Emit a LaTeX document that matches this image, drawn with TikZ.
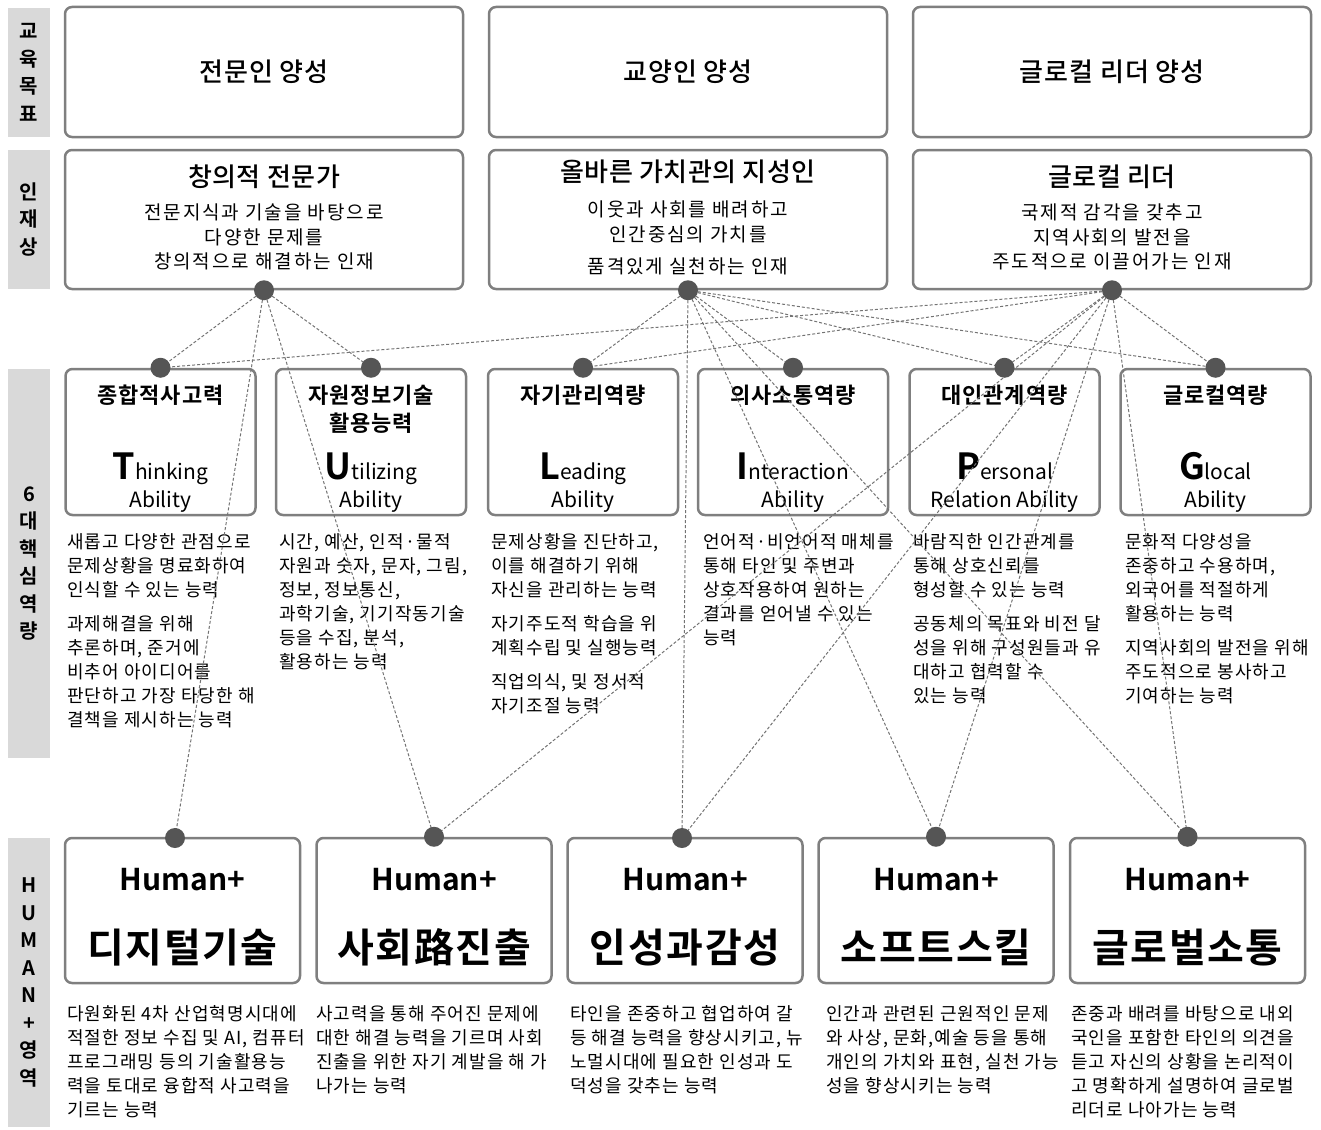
\documentclass[tikz,border=0pt]{standalone}
\usepackage{fontspec}
\setmainfont{Noto Sans CJK KR}[BoldFont={Noto Sans CJK KR Bold}]
\newfontfamily\medfont{Noto Sans CJK KR Medium}
\usetikzlibrary{positioning}
\definecolor{boxline}{HTML}{7F7F7F}
\definecolor{barfill}{HTML}{D9D9D9}
\definecolor{dotfill}{HTML}{555555}
\definecolor{linkline}{HTML}{737373}
\newcommand{\setfs}[2]{\fontsize{#1}{#2}\selectfont}
\newcommand{\spaced}[1]{\addfontfeature{LetterSpace=#1}}
\newcommand{\initcap}[1]{{\setfs{36}{36}\bfseries #1}}

\begin{document}
\begin{tikzpicture}[x=1pt,y=-1pt,
  bar/.style={fill=barfill,minimum width=42pt,inner sep=0pt,align=center,font=\setfs{20}{27.5}\bfseries},
  frame/.style={draw=boxline,line width=2.5pt,rounded corners=7pt,fill=white,inner sep=0pt},
  goal/.style={frame,minimum width=398pt,minimum height=130pt,font=\medfont\setfs{26}{30}\spaced{4}},
  talent/.style={frame,minimum width=398pt,minimum height=139pt},
  ability/.style={frame,minimum width=190pt,minimum height=146pt},
  human/.style={frame,minimum width=235pt,minimum height=145pt},
  ttitle/.style={inner sep=0pt,font=\medfont\setfs{26}{30}\spaced{2}},
  tsub/.style={anchor=north,inner sep=0pt,align=center,font=\setfs{19}{24.5}\spaced{10}},
  atitle/.style={inner sep=0pt,align=center,font=\setfs{22}{28}\bfseries\spaced{4}},
  aword/.style={anchor=base,inner sep=0pt,font=\setfs{21}{24}},
  hplus/.style={anchor=base,inner sep=0pt,font=\setfs{30}{30}\bfseries},
  hname/.style={anchor=base,inner sep=0pt,font=\setfs{40}{40}\bfseries\spaced{4}},
  desc/.style={anchor=north west,inner sep=0pt,align=left,font=\setfs{18}{24}\spaced{6}},
  link/.style={draw=linkline,dash pattern=on 3pt off 2pt,line width=1pt}]
\useasboundingbox (0,0) rectangle (1321,1129);

\node[bar,minimum height=129pt] (bar1) at (29,72.5) {교\\육\\목\\표};
\node[bar,minimum height=139pt] (bar2) at (29,219.5) {인\\재\\상};
\node[bar,minimum height=389pt] (bar3) at (29,563.5) {6\\대\\핵\\심\\역\\량};
\node[bar,minimum height=289pt] (bar4) at (29,982.5) {H\\U\\M\\A\\N\\+\\영\\역};

\node[goal] (goal1) at (264,72) {전문인 양성};
\node[goal] (goal2) at (688,72) {교양인 양성};
\node[goal] (goal3) at (1112,72) {글로컬 리더 양성};

\node[talent] (tal1) at (264,219.5) {};
\node[talent] (tal2) at (688,219.5) {};
\node[talent] (tal3) at (1112,219.5) {};
\node[ttitle] (tal1t) at (264,177) {창의적 전문가};
\node[ttitle] (tal2t) at (688,172) {올바른 가치관의 지성인};
\node[ttitle] (tal3t) at (1112,177) {글로컬 리더};
\node[tsub] (tal1s) at (264,204) {전문지식과 기술을 바탕으로\\다양한 문제를\\창의적으로 해결하는 인재};
\node[tsub] (tal2s) at (688,201) {이웃과 사회를 배려하고\\인간중심의 가치를\\[8pt]품격있게 실천하는 인재};
\node[tsub] (tal3s) at (1112,204) {국제적 감각을 갖추고\\지역사회의 발전을\\주도적으로 이끌어가는 인재};

\node[ability] (ab1) at (160.5,442) {};
\node[ability] (ab2) at (371,442) {};
\node[ability] (ab3) at (583,442) {};
\node[ability] (ab4) at (793,442) {};
\node[ability] (ab5) at (1004.5,442) {};
\node[ability] (ab6) at (1215.5,442) {};
\node[atitle] (ab1t) at (160.5,395) {종합적사고력};
\node[atitle] (ab2t) at (371,409) {자원정보기술\\활용능력};
\node[atitle] (ab3t) at (583,395) {자기관리역량};
\node[atitle] (ab4t) at (793,395) {의사소통역량};
\node[atitle] (ab5t) at (1004.5,395) {대인관계역량};
\node[atitle] (ab6t) at (1215.5,395) {글로컬역량};
\node[aword] (ab1w) at (160.5,479) {\initcap{T}hinking};
\node[aword] (ab2w) at (371,479) {\initcap{U}tilizing};
\node[aword] (ab3w) at (583,479) {\initcap{L}eading};
\node[aword] (ab4w) at (793,479) {\initcap{I}nteraction};
\node[aword] (ab5w) at (1004.5,479) {\initcap{P}ersonal};
\node[aword] (ab6w) at (1215.5,479) {\initcap{G}local};
\node[aword] (ab1a) at (160.5,507) {Ability};
\node[aword] (ab2a) at (371,507) {Ability};
\node[aword] (ab3a) at (583,507) {Ability};
\node[aword] (ab4a) at (793,507) {Ability};
\node[aword] (ab5a) at (1004.5,507) {Relation Ability};
\node[aword] (ab6a) at (1215.5,507) {Ability};

\node[desc] (ab1d) at (67,533) {새롭고 다양한 관점으로\\문제상황을 명료화하여\\인식할 수 있는 능력\\[10pt]과제해결을 위해\\추론하며, 준거에\\비추어 아이디어를\\판단하고 가장 타당한 해\\결책을 제시하는 능력};
\node[desc] (ab2d) at (279,533) {시간, 예산, 인적·물적\\자원과 숫자, 문자, 그림,\\정보, 정보통신,\\과학기술, 기기작동기술\\등을 수집, 분석,\\활용하는 능력};
\node[desc] (ab3d) at (491,533) {문제상황을 진단하고,\\이를 해결하기 위해\\자신을 관리하는 능력\\[10pt]자기주도적 학습을 위\\계획수립 및 실행능력\\[10pt]직업의식, 및 정서적\\자기조절 능력};
\node[desc] (ab4d) at (703,533) {언어적·비언어적 매체를\\통해 타인 및 주변과\\상호작용하여 원하는\\결과를 얻어낼 수 있는\\능력};
\node[desc] (ab5d) at (913,533) {바람직한 인간관계를\\통해 상호신뢰를\\형성할 수 있는 능력\\[10pt]공동체의 목표와 비전 달\\성을 위해 구성원들과 유\\대하고 협력할 수\\있는 능력};
\node[desc] (ab6d) at (1125,533) {문화적 다양성을\\존중하고 수용하며,\\외국어를 적절하게\\활용하는 능력\\[10pt]지역사회의 발전을 위해\\주도적으로 봉사하고\\기여하는 능력};

\node[human] (hu1) at (182.5,910.5) {};
\node[human] (hu2) at (434,910.5) {};
\node[human] (hu3) at (685,910.5) {};
\node[human] (hu4) at (936,910.5) {};
\node[human] (hu5) at (1187.5,910.5) {};
\node[hplus] (hu1p) at (182.5,890) {Human+};
\node[hplus] (hu2p) at (434,890) {Human+};
\node[hplus] (hu3p) at (685,890) {Human+};
\node[hplus] (hu4p) at (936,890) {Human+};
\node[hplus] (hu5p) at (1187.5,890) {Human+};
\node[hname] (hu1n) at (182.5,962) {디지털기술};
\node[hname] (hu2n) at (434,962) {사회路진출};
\node[hname] (hu3n) at (685,962) {인성과감성};
\node[hname] (hu4n) at (936,962) {소프트스킬};
\node[hname] (hu5n) at (1187.5,962) {글로벌소통};

\node[desc] (hu1d) at (67,1005) {다원화된 4차 산업혁명시대에\\적절한 정보 수집 및 AI, 컴퓨터\\프로그래밍 등의 기술활용능\\력을 토대로 융합적 사고력을\\기르는 능력};
\node[desc] (hu2d) at (316,1005) {사고력을 통해 주어진 문제에\\대한 해결 능력을 기르며 사회\\진출을 위한 자기 계발을 해 가\\나가는 능력};
\node[desc] (hu3d) at (570,1005) {타인을 존중하고 협업하여 갈\\등 해결 능력을 향상시키고, 뉴\\노멀시대에 필요한 인성과 도\\덕성을 갖추는 능력};
\node[desc] (hu4d) at (826,1005) {인간과 관련된 근원적인 문제\\와 사상, 문화,예술 등을 통해\\개인의 가치와 표현, 실천 가능\\성을 향상시키는 능력};
\node[desc] (hu5d) at (1071,1005) {존중과 배려를 바탕으로 내외\\국인을 포함한 타인의 의견을\\듣고 자신의 상황을 논리적이\\고 명확하게 설명하여 글로벌\\리더로 나아가는 능력};

\coordinate (t1) at (tal1.south);
\coordinate (t2) at (tal2.south);
\coordinate (t3) at (tal3.south);
\coordinate (a1) at (ab1.north);
\coordinate (a2) at (ab2.north);
\coordinate (a3) at (ab3.north);
\coordinate (a4) at (ab4.north);
\coordinate (a5) at (ab5.north);
\coordinate (a6) at (ab6.north);
\coordinate (h1) at (175,838);
\coordinate (h2) at (hu2.north);
\coordinate (h3) at (682,838);
\coordinate (h4) at (hu4.north);
\coordinate (h5) at (hu5.north);

\draw[link] (t1) -- (a1);
\draw[link] (t1) -- (a2);
\draw[link] (t1) -- (h1);
\draw[link] (t1) -- (h2);
\draw[link] (t2) -- (a3);
\draw[link] (t2) -- (a4);
\draw[link] (t2) -- (a5);
\draw[link] (t2) -- (a6);
\draw[link] (t2) -- (h3);
\draw[link] (t2) -- (h4);
\draw[link] (t2) -- (h5);
\draw[link] (t3) -- (a1);
\draw[link] (t3) -- (a3);
\draw[link] (t3) -- (a5);
\draw[link] (t3) -- (a6);
\draw[link] (t3) -- (h2);
\draw[link] (t3) -- (h3);
\draw[link] (t3) -- (h4);
\draw[link] (t3) -- (h5);

\foreach \d in {t1,t2,t3,a1,a2,a3,a4,a5,a6,h1,h2,h3,h4,h5}
  \fill[dotfill] (\d) circle (10pt);
\end{tikzpicture}
\end{document}
